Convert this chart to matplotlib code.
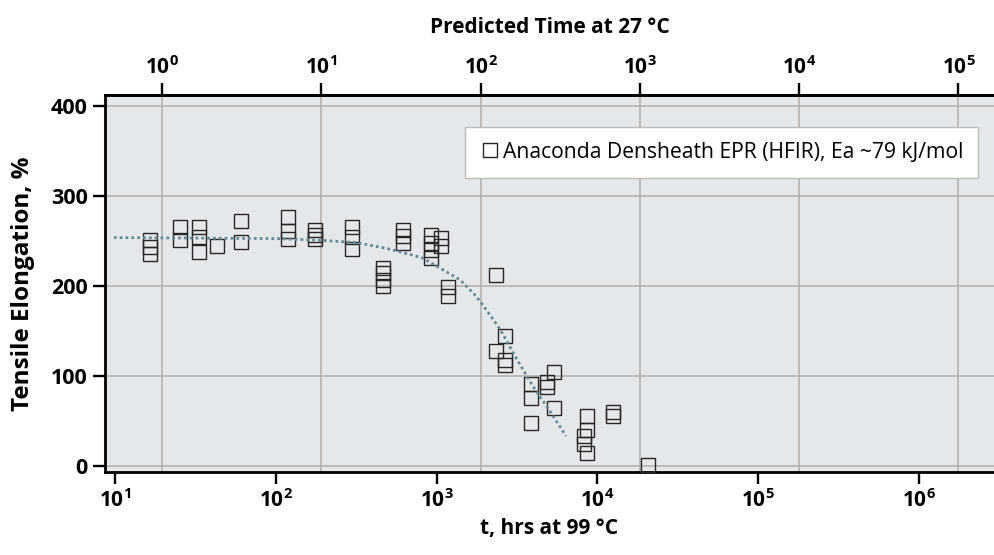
import numpy as np
import matplotlib
matplotlib.use("Agg")
import matplotlib.pyplot as plt
from matplotlib.ticker import FixedLocator, NullLocator, FuncFormatter

plt.rcParams['font.family'] = ['Open Sans', 'DejaVu Sans']
plt.rcParams['mathtext.fontset'] = 'custom'
plt.rcParams['mathtext.bf'] = 'Open Sans:bold'
plt.rcParams['mathtext.rm'] = 'Open Sans:bold'

# measured data: hours at 99 C vs tensile elongation (%)
hours = [16.5, 16.5, 16.5,
         25.2, 25.2,
         33.4, 33.4, 33.4,
         43.2,
         60.3, 60.3,
         118, 118, 118,
         175, 175, 175,
         298, 298, 298,
         463, 463, 463, 463,
         620, 620, 620,
         922, 922, 922, 922,
         1064, 1064,
         1184, 1184,
         2333, 2333,
         2650, 2650, 2650,
         3865, 3865, 3865,
         4842, 4842,
         5355, 5355,
         8590, 8590, 8590, 8280, 8280,
         12450, 12450,
         20800]
elongation = [251, 243, 235,
              265, 251,
              265, 254, 237,
              244,
              272, 249,
              276, 261, 252,
              262, 256, 252,
              265, 254, 241,
              220, 214, 206, 200,
              262, 255, 247,
              256, 248, 240, 231,
              253, 244,
              199, 189,
              212, 128,
              144, 117, 112,
              91, 75, 48,
              93, 88,
              104, 64,
              55.5, 40, 14, 32.5, 24,
              60, 55.5,
              1]

# fitted trend
fit_hours = [9.8, 31.6, 100, 178, 316, 501, 708, 819, 1050, 1396,
             1770, 2138, 2512, 3162, 3981, 5012, 6383]
fit_elong = [253.5, 253, 252.4, 250.8, 248, 241, 234, 230.7, 219.6, 206.6,
             188, 168, 150, 118, 88, 62, 33]

legend_label = "Anaconda Densheath EPR (HFIR), Ea ~79 kJ/mol"
y_ticks = [0, 100, 200, 300, 400]
bottom_ticks = [1e1, 1e2, 1e3, 1e4, 1e5, 1e6]
top_ticks = [1e0, 1e1, 1e2, 1e3, 1e4, 1e5]

# bottom (99 C) -> top (27 C) time mapping as drawn
K, C = 1.0088, 1.2906


def to_top(x):
    x = np.maximum(np.asarray(x, dtype=float), 1e-300)
    return 10 ** ((np.log10(x) - C) * K)


def to_bottom(x):
    x = np.maximum(np.asarray(x, dtype=float), 1e-300)
    return 10 ** (np.log10(x) / K + C)


def pow_fmt(v, pos):
    return r'$\mathbf{10^{%d}}$' % round(np.log10(v))


fig = plt.figure(figsize=(9.94, 5.55), dpi=100)
ax = fig.add_axes([105 / 994, 1 - 472 / 555, 889 / 994, 377 / 555])
ax.set_facecolor('#e5e8eb')

ax.plot(hours, elongation, linestyle='none', marker='s', markersize=10,
        markerfacecolor='none', markeredgecolor='#262626', markeredgewidth=1.0,
        label=legend_label, zorder=3)
ax.plot(fit_hours, fit_elong, color='#648a99', linewidth=2.0,
        linestyle=(0, (1.0, 1.1)), zorder=4)

ax.set_xscale('log')
ax.set_xlim(8.63, 2.94e6)
ax.set_ylim(-7, 412)

ax.set_yticks(y_ticks)
ax.xaxis.set_major_locator(FixedLocator(bottom_ticks))
ax.xaxis.set_minor_locator(FixedLocator(to_bottom(top_ticks)))
ax.xaxis.set_major_formatter(FuncFormatter(pow_fmt))

ax.grid(which='minor', axis='x', color='#b3b3b3', linewidth=1.2)
ax.grid(which='major', axis='y', color='#b3b3b3', linewidth=1.2)
ax.set_axisbelow(True)

ax.tick_params(which='major', length=8.5, width=1.7, color='black', pad=4)
ax.tick_params(axis='x', labelsize=15)
ax.tick_params(axis='y', labelsize=15.5)
ax.tick_params(which='minor', length=0)
for lab in ax.get_yticklabels():
    lab.set_fontweight('bold')

for side in ['left', 'bottom', 'top']:
    ax.spines[side].set_linewidth(2.0)
ax.spines['right'].set_visible(False)

secax = ax.secondary_xaxis('top', functions=(to_top, to_bottom))
secax.xaxis.set_major_locator(FixedLocator(top_ticks))
secax.xaxis.set_minor_locator(NullLocator())
secax.xaxis.set_major_formatter(FuncFormatter(pow_fmt))
secax.tick_params(which='major', length=8.5, width=1.7, labelsize=15, pad=3)
secax.spines['top'].set_linewidth(2.0)
secax.set_xlabel('Predicted Time at 27 °C', fontsize=15, fontweight='bold', labelpad=17)

ax.set_xlabel('t, hrs at 99 °C', fontsize=15, fontweight='bold', labelpad=4)
ax.set_ylabel('Tensile Elongation, %', fontsize=17.5, fontweight='bold', labelpad=11)

leg = ax.legend(loc='upper right', bbox_to_anchor=(0.982, 0.915), borderaxespad=0,
                fontsize=15.2, frameon=True, fancybox=False, framealpha=1,
                edgecolor='#bbbbbb', handlelength=1.0, handletextpad=0.1,
                borderpad=0.7, markerscale=1.0)
leg.get_frame().set_linewidth(1.0)

fig.savefig('out.png', dpi=100)
